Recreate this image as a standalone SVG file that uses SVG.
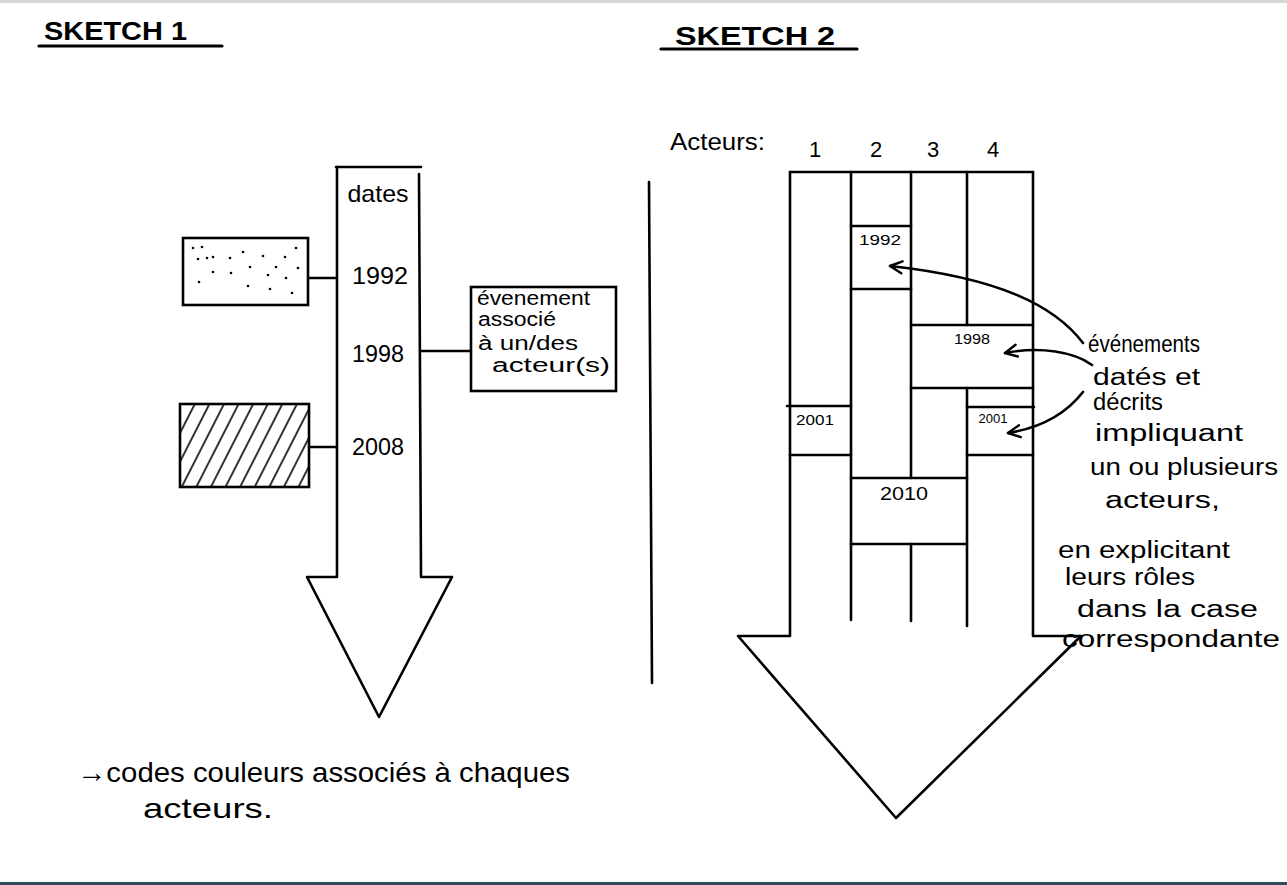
<svg xmlns="http://www.w3.org/2000/svg" width="1287" height="885" viewBox="0 0 1287 885">
<style>
.ln{fill:none;stroke:#000;stroke-width:2.6;stroke-linecap:round;stroke-linejoin:round}
.bx{fill:#fff;stroke:#000;stroke-width:2.6}
.t{font-family:"Liberation Sans",Arial,sans-serif;fill:#000}
.ttl{font-family:"Liberation Sans",Arial,sans-serif;font-weight:bold;font-size:26px;fill:#000}
.dt{font-family:"Liberation Sans",Arial,sans-serif;fill:#000;text-anchor:middle}
.hw{font-family:"Liberation Sans",Arial,sans-serif;font-size:23px;fill:#000}
.dot{fill:#000}
</style>
<defs>
<pattern id="hatch" width="13" height="13" patternUnits="userSpaceOnUse" patternTransform="rotate(27)">
<line x1="6" y1="-2" x2="6" y2="15" stroke="#000" stroke-width="1.6"/>
</pattern>
<marker id="chev" viewBox="0 0 16 16" refX="14" refY="8" markerWidth="16" markerHeight="16" markerUnits="userSpaceOnUse" orient="auto">
<path d="M2,2 L14,8 L2,14" fill="none" stroke="#000" stroke-width="2.4" stroke-linecap="round" stroke-linejoin="round"/>
</marker>
</defs>
<rect width="1287" height="885" fill="#fff"/>
<line x1="0" y1="1.5" x2="1287" y2="1.5" stroke="#d6d6d6" stroke-width="3"/>
<rect x="0" y="882" width="1287" height="3" fill="#33495a"/>

<!-- SKETCH 1 -->
<g id="title1">
<text class="ttl" x="44" y="40" textLength="143" lengthAdjust="spacingAndGlyphs">SKETCH 1</text>
<line x1="39" y1="46" x2="222" y2="46" stroke="#000" stroke-width="3.2" stroke-linecap="round"/>
</g>
<g id="timeline1">
<path class="ln" d="M336,167 L421,167"/>
<path class="ln" d="M337,167 L337,577 L307,577 L379,717 L452,577 L421,577 L419,174"/>
<text class="dt" font-size="24" x="378" y="202" textLength="61" lengthAdjust="spacingAndGlyphs">dates</text>
<text class="dt" font-size="24" x="380" y="284" textLength="56" lengthAdjust="spacingAndGlyphs">1992</text>
<text class="dt" font-size="24" x="378" y="362" textLength="52" lengthAdjust="spacingAndGlyphs">1998</text>
<text class="dt" font-size="24" x="378" y="455" textLength="52" lengthAdjust="spacingAndGlyphs">2008</text>
</g>
<g id="connectors1">
<line class="ln" x1="308" y1="278" x2="336" y2="278"/>
<line class="ln" x1="421" y1="351" x2="470" y2="351"/>
<line class="ln" x1="309" y1="447" x2="336" y2="447"/>
</g>
<g id="dotted-box">
<rect class="bx" x="183" y="238" width="125" height="67"/>
<g class="dot">
<circle cx="193" cy="248" r="1.3"/><circle cx="202" cy="247" r="1.3"/><circle cx="198" cy="259" r="1.3"/>
<circle cx="207" cy="258" r="1.3"/><circle cx="213" cy="257" r="1.3"/><circle cx="213" cy="272" r="1.3"/>
<circle cx="230" cy="258" r="1.3"/><circle cx="231" cy="273" r="1.3"/><circle cx="243" cy="252" r="1.3"/>
<circle cx="250" cy="267" r="1.3"/><circle cx="248" cy="286" r="1.3"/><circle cx="263" cy="256" r="1.3"/>
<circle cx="268" cy="275" r="1.3"/><circle cx="270" cy="289" r="1.3"/><circle cx="276" cy="267" r="1.3"/>
<circle cx="285" cy="257" r="1.3"/><circle cx="286" cy="278" r="1.3"/><circle cx="296" cy="248" r="1.3"/>
<circle cx="298" cy="268" r="1.3"/><circle cx="292" cy="293" r="1.3"/><circle cx="199" cy="282" r="1.3"/>
</g>
</g>
<g id="hatched-box">
<rect x="180" y="404" width="129" height="83" fill="url(#hatch)" stroke="#000" stroke-width="2.6"/>
</g>
<g id="event-box">
<rect class="bx" x="471" y="287" width="145" height="104"/>
<text class="t" font-size="20" x="477" y="305" textLength="113" lengthAdjust="spacingAndGlyphs">évenement</text>
<text class="t" font-size="20" x="478" y="326" textLength="78" lengthAdjust="spacingAndGlyphs">associé</text>
<text class="t" font-size="20" x="478" y="350" textLength="100" lengthAdjust="spacingAndGlyphs">à un/des</text>
<text class="t" font-size="20" x="492" y="372" textLength="118" lengthAdjust="spacingAndGlyphs">acteur(s)</text>
</g>
<g id="note1">
<text class="t" font-size="28" x="77" y="782" textLength="493" lengthAdjust="spacingAndGlyphs">→codes couleurs associés à chaques</text>
<text class="t" font-size="28" x="143" y="818" textLength="130" lengthAdjust="spacingAndGlyphs">acteurs.</text>
</g>

<!-- divider -->
<line class="ln" x1="649" y1="182" x2="652" y2="683" stroke-width="3"/>

<!-- SKETCH 2 -->
<g id="title2">
<text class="ttl" x="675" y="45" textLength="160" lengthAdjust="spacingAndGlyphs">SKETCH 2</text>
<line x1="661" y1="49" x2="857" y2="49" stroke="#000" stroke-width="3.2" stroke-linecap="round"/>
</g>
<g id="actors-header">
<text class="t" font-size="23" x="670" y="150" textLength="95" lengthAdjust="spacingAndGlyphs">Acteurs:</text>
<text class="dt" font-size="22" x="815" y="157">1</text>
<text class="dt" font-size="22" x="876" y="157">2</text>
<text class="dt" font-size="22" x="933" y="157">3</text>
<text class="dt" font-size="22" x="993" y="157">4</text>
</g>
<g id="timeline2">
<line class="ln" x1="790" y1="172" x2="1033" y2="172"/>
<path class="ln" d="M790,172 L790,636 L738,636 L896,818 L1081,636 L1033,636 L1033,172"/>
<line class="ln" x1="851" y1="172" x2="851" y2="620"/>
<line class="ln" x1="911" y1="172" x2="911" y2="478"/>
<line class="ln" x1="911" y1="544" x2="911" y2="621"/>
<line class="ln" x1="967" y1="172" x2="967" y2="325"/>
<line class="ln" x1="967" y1="388" x2="967" y2="626"/>
</g>
<g id="event-1992">
<line class="ln" x1="851" y1="226" x2="911" y2="226"/>
<line class="ln" x1="851" y1="289" x2="911" y2="289"/>
<text class="dt" font-size="15" x="880" y="245" textLength="42" lengthAdjust="spacingAndGlyphs">1992</text>
</g>
<g id="event-1998">
<line class="ln" x1="911" y1="325" x2="1033" y2="325"/>
<line class="ln" x1="911" y1="388" x2="1033" y2="388"/>
<text class="dt" font-size="14" x="972" y="344" textLength="36" lengthAdjust="spacingAndGlyphs">1998</text>
</g>
<g id="event-2001-a">
<line class="ln" x1="787" y1="406" x2="851" y2="406"/>
<line class="ln" x1="790" y1="455" x2="851" y2="455"/>
<text class="dt" font-size="14" x="815" y="425" textLength="38" lengthAdjust="spacingAndGlyphs">2001</text>
</g>
<g id="event-2001-b">
<line class="ln" x1="967" y1="407" x2="1034" y2="407"/>
<line class="ln" x1="967" y1="455" x2="1033" y2="455"/>
<text class="dt" font-size="13" x="993" y="423" textLength="29" lengthAdjust="spacingAndGlyphs">2001</text>
</g>
<g id="event-2010">
<line class="ln" x1="851" y1="478" x2="967" y2="478"/>
<line class="ln" x1="851" y1="544" x2="967" y2="544"/>
<text class="dt" font-size="19" x="904" y="500" textLength="48" lengthAdjust="spacingAndGlyphs">2010</text>
</g>
<g id="connectors2">
<path class="ln" d="M1083,343 C1055,306 1000,278 890,266" marker-end="url(#chev)"/>
<path class="ln" d="M1092,365 C1075,352 1040,346 1005,353" marker-end="url(#chev)"/>
<path class="ln" d="M1083,392 C1065,415 1040,428 1008,433" marker-end="url(#chev)"/>
</g>
<g id="note2">
<text class="hw" x="1088" y="352" textLength="112" lengthAdjust="spacingAndGlyphs">événements</text>
<text class="hw" x="1093" y="385" textLength="107" lengthAdjust="spacingAndGlyphs">datés et</text>
<text class="hw" x="1093" y="410" textLength="70" lengthAdjust="spacingAndGlyphs">décrits</text>
<text class="hw" x="1095" y="441" textLength="148" lengthAdjust="spacingAndGlyphs">impliquant</text>
<text class="hw" x="1090" y="475" textLength="188" lengthAdjust="spacingAndGlyphs">un ou plusieurs</text>
<text class="hw" x="1105" y="508" textLength="115" lengthAdjust="spacingAndGlyphs">acteurs,</text>
<text class="hw" x="1058" y="558" textLength="172" lengthAdjust="spacingAndGlyphs">en explicitant</text>
<text class="hw" x="1065" y="585" textLength="130" lengthAdjust="spacingAndGlyphs">leurs rôles</text>
<text class="hw" x="1077" y="617" textLength="181" lengthAdjust="spacingAndGlyphs">dans la case</text>
<text class="hw" x="1062" y="647" textLength="218" lengthAdjust="spacingAndGlyphs">correspondante</text>
</g>
</svg>
